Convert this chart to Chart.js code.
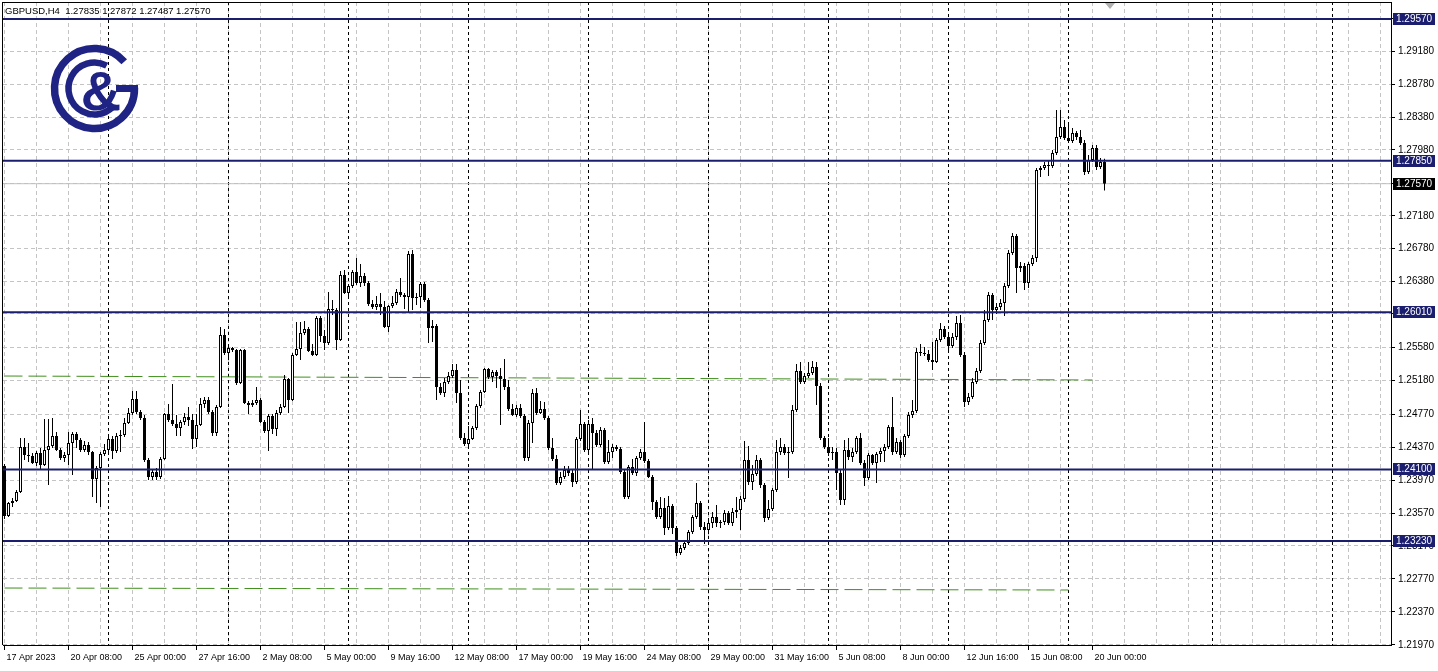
<!DOCTYPE html>
<html>
<head>
<meta charset="utf-8">
<title>GBPUSD H4</title>
<script src="https://cdn.jsdelivr.net/npm/chart.js@4.4.0/dist/chart.umd.min.js"></script>
<style>
  html, body { margin: 0; padding: 0; background: #fff; }
  #wrap { width: 1438px; height: 671px; }
</style>
</head>
<body>
<div id="wrap"><canvas id="chart" width="1438" height="671"></canvas></div>
<script>
// H4 bars, 17 Apr 2023 16:00 .. 20 Jun 2023 12:00 (bar index = position)
const opens = [
  1.24141, 1.23534, 1.23692, 1.23716, 1.23826, 1.24372, 1.24274, 1.24262, 1.24178, 1.24299,
  1.24153, 1.24335, 1.24384, 1.24506, 1.24335, 1.24238, 1.24274, 1.24421, 1.24530, 1.24457,
  1.24335, 1.24396, 1.24311, 1.23983, 1.24117, 1.24287, 1.24335, 1.24469, 1.24323, 1.24506,
  1.24518, 1.24664, 1.24785, 1.24955, 1.24797, 1.24724, 1.24214, 1.24007, 1.24068, 1.24007,
  1.24226, 1.24773, 1.24700, 1.24651, 1.24603, 1.24676, 1.24736, 1.24700, 1.24469, 1.24639,
  1.24894, 1.24943, 1.24797, 1.24542, 1.24858, 1.25732, 1.25513, 1.25574, 1.25550, 1.25149,
  1.25550, 1.24906, 1.24882, 1.24906, 1.24943, 1.24676, 1.24566, 1.24748, 1.24591, 1.24785,
  1.24858, 1.25198, 1.24943, 1.25489, 1.25562, 1.25757, 1.25805, 1.25538, 1.25489, 1.25939,
  1.25720, 1.25635, 1.26048, 1.26036, 1.25671, 1.26461, 1.26243, 1.26328, 1.26498, 1.26364,
  1.26449, 1.26364, 1.26109, 1.26072, 1.26109, 1.26072, 1.25829, 1.26084, 1.26121, 1.26255,
  1.26218, 1.26194, 1.26716, 1.26182, 1.26194, 1.26352, 1.26157, 1.25817, 1.25841, 1.25101,
  1.25028, 1.25162, 1.25234, 1.25307, 1.25028, 1.24481, 1.24408, 1.24469, 1.24603, 1.24870,
  1.25040, 1.25319, 1.25222, 1.25283, 1.25234, 1.25198, 1.25101, 1.24833, 1.24761, 1.24846,
  1.24748, 1.24238, 1.24664, 1.25028, 1.24785, 1.24833, 1.24724, 1.24360, 1.24226, 1.23935,
  1.24007, 1.24092, 1.24056, 1.23947, 1.24469, 1.24651, 1.24335, 1.24651, 1.24542, 1.24396,
  1.24578, 1.24190, 1.24311, 1.24372, 1.24347, 1.24068, 1.23765, 1.24129, 1.24056, 1.24238,
  1.24311, 1.24202, 1.24007, 1.23704, 1.23522, 1.23631, 1.23388, 1.23655, 1.23388, 1.23085,
  1.23145, 1.23206, 1.23339, 1.23522, 1.23692, 1.23400, 1.23364, 1.23449, 1.23522, 1.23449,
  1.23461, 1.23570, 1.23449, 1.23582, 1.23607, 1.23740, 1.24214, 1.23947, 1.24044, 1.24214,
  1.23910, 1.23510, 1.23619, 1.23850, 1.24311, 1.24372, 1.24299, 1.24311, 1.24821, 1.25295,
  1.25162, 1.25234, 1.25271, 1.25343, 1.25113, 1.24481, 1.24372, 1.24299, 1.24311, 1.24056,
  1.23728, 1.24335, 1.24250, 1.24311, 1.24481, 1.24178, 1.23995, 1.24274, 1.24178, 1.24287,
  1.24323, 1.24372, 1.24615, 1.24311, 1.24433, 1.24274, 1.24506, 1.24761, 1.24809, 1.25526,
  1.25513, 1.25501, 1.25428, 1.25404, 1.25671, 1.25805, 1.25708, 1.25599, 1.25708, 1.25878,
  1.25489, 1.24918, 1.24979, 1.25162, 1.25295, 1.25635, 1.25914, 1.26218, 1.26036, 1.26072,
  1.26121, 1.26328, 1.26728, 1.26935, 1.26546, 1.26570, 1.26364, 1.26594, 1.26667, 1.27736,
  1.27760, 1.27797, 1.27785, 1.27943, 1.28137, 1.28258, 1.28125, 1.28088, 1.28185, 1.28137,
  1.28064, 1.27712, 1.27858, 1.28003, 1.27773, 1.27835
];
const highs = [
  1.24165, 1.23704, 1.23752, 1.23850, 1.24481, 1.24481, 1.24421, 1.24299, 1.24323, 1.24360,
  1.24712, 1.24712, 1.24724, 1.24554, 1.24360, 1.24311, 1.24554, 1.24554, 1.24554, 1.24481,
  1.24445, 1.24433, 1.24323, 1.24141, 1.24311, 1.24408, 1.24493, 1.24506, 1.24542, 1.24578,
  1.24724, 1.24846, 1.25052, 1.25052, 1.24821, 1.24761, 1.24238, 1.24092, 1.24117, 1.24250,
  1.24785, 1.24894, 1.25137, 1.24761, 1.24700, 1.24785, 1.24858, 1.24773, 1.24773, 1.24967,
  1.24979, 1.24979, 1.24821, 1.24882, 1.25829, 1.25805, 1.25610, 1.25586, 1.25562, 1.25562,
  1.25562, 1.24931, 1.24943, 1.25101, 1.24967, 1.24700, 1.24773, 1.24773, 1.24821, 1.24894,
  1.25247, 1.25210, 1.25513, 1.25890, 1.25890, 1.25902, 1.25829, 1.25623, 1.25963, 1.25963,
  1.25793, 1.26255, 1.26157, 1.26060, 1.26510, 1.26522, 1.26352, 1.26522, 1.26667, 1.26594,
  1.26485, 1.26388, 1.26157, 1.26206, 1.26243, 1.26145, 1.26096, 1.26206, 1.26291, 1.26425,
  1.26243, 1.26752, 1.26764, 1.26243, 1.26376, 1.26376, 1.26182, 1.25914, 1.25866, 1.25149,
  1.25210, 1.25283, 1.25380, 1.25380, 1.25186, 1.24542, 1.24627, 1.24627, 1.24894, 1.25064,
  1.25331, 1.25331, 1.25307, 1.25307, 1.25331, 1.25441, 1.25186, 1.24894, 1.24882, 1.24894,
  1.24773, 1.24700, 1.25076, 1.25089, 1.24931, 1.24918, 1.24748, 1.24481, 1.24274, 1.24068,
  1.24141, 1.24141, 1.24092, 1.24493, 1.24821, 1.24676, 1.24700, 1.24724, 1.24578, 1.24615,
  1.24603, 1.24457, 1.24408, 1.24396, 1.24372, 1.24092, 1.24153, 1.24226, 1.24262, 1.24347,
  1.24676, 1.24226, 1.24031, 1.23728, 1.23765, 1.23752, 1.23777, 1.23680, 1.23412, 1.23182,
  1.23242, 1.23364, 1.23546, 1.23935, 1.23716, 1.23461, 1.23498, 1.23582, 1.23667, 1.23485,
  1.23607, 1.23594, 1.23631, 1.23765, 1.23777, 1.24445, 1.24384, 1.24153, 1.24274, 1.24238,
  1.23935, 1.23728, 1.23874, 1.24457, 1.24481, 1.24408, 1.24372, 1.24882, 1.25380, 1.25404,
  1.25271, 1.25404, 1.25416, 1.25404, 1.25149, 1.24506, 1.24481, 1.24372, 1.24360, 1.24092,
  1.24457, 1.24481, 1.24360, 1.24506, 1.24542, 1.24214, 1.24299, 1.24287, 1.24311, 1.24360,
  1.24408, 1.24639, 1.24979, 1.24481, 1.24457, 1.24530, 1.24797, 1.24943, 1.25574, 1.25623,
  1.25586, 1.25550, 1.25647, 1.25696, 1.25878, 1.25842, 1.25732, 1.25757, 1.25963, 1.25975,
  1.25526, 1.25028, 1.25210, 1.25331, 1.25671, 1.26036, 1.26255, 1.26243, 1.26121, 1.26170,
  1.26364, 1.26764, 1.26971, 1.26959, 1.26618, 1.26606, 1.26618, 1.26704, 1.27760, 1.27785,
  1.27833, 1.27858, 1.27979, 1.28465, 1.28465, 1.28343, 1.28319, 1.28246, 1.28210, 1.28222,
  1.28101, 1.27918, 1.28040, 1.28040, 1.27882, 1.27872
];
const lows = [
  1.23498, 1.23522, 1.23643, 1.23704, 1.23814, 1.24214, 1.24190, 1.24165, 1.24141, 1.24092,
  1.24141, 1.23910, 1.24360, 1.24323, 1.24214, 1.24190, 1.24153, 1.24031, 1.24360, 1.24311,
  1.24311, 1.24274, 1.23765, 1.23692, 1.23643, 1.24262, 1.24274, 1.24226, 1.24299, 1.24311,
  1.24493, 1.24651, 1.24761, 1.24773, 1.24700, 1.24190, 1.23971, 1.23971, 1.23971, 1.23983,
  1.24214, 1.24676, 1.24627, 1.24506, 1.24506, 1.24639, 1.24627, 1.24347, 1.24372, 1.24627,
  1.24846, 1.24773, 1.24506, 1.24506, 1.24846, 1.25489, 1.25428, 1.25526, 1.25125, 1.25137,
  1.24894, 1.24773, 1.24858, 1.24882, 1.24664, 1.24542, 1.24323, 1.24530, 1.24506, 1.24761,
  1.24846, 1.24785, 1.24931, 1.25477, 1.25428, 1.25732, 1.25526, 1.25477, 1.25477, 1.25647,
  1.25550, 1.25611, 1.25975, 1.25550, 1.25659, 1.26230, 1.26206, 1.26303, 1.26340, 1.26315,
  1.26328, 1.26084, 1.26048, 1.26036, 1.25975, 1.25817, 1.25768, 1.26060, 1.26096, 1.26194,
  1.26048, 1.25999, 1.26036, 1.26096, 1.26060, 1.26133, 1.25635, 1.25647, 1.24943, 1.25003,
  1.24979, 1.25137, 1.25210, 1.24906, 1.24457, 1.24384, 1.24384, 1.24457, 1.24578, 1.24846,
  1.25028, 1.25198, 1.25162, 1.25089, 1.24639, 1.25064, 1.24809, 1.24748, 1.24736, 1.24724,
  1.24202, 1.24202, 1.24421, 1.24761, 1.24773, 1.24700, 1.24335, 1.24202, 1.23910, 1.23910,
  1.23983, 1.24019, 1.23886, 1.23923, 1.24445, 1.24311, 1.24311, 1.24104, 1.24372, 1.24372,
  1.24165, 1.24165, 1.24238, 1.24323, 1.24044, 1.23740, 1.23740, 1.24031, 1.24019, 1.24214,
  1.24178, 1.23995, 1.23607, 1.23498, 1.23498, 1.23303, 1.23364, 1.23315, 1.23048, 1.23060,
  1.23121, 1.23182, 1.23315, 1.23498, 1.23364, 1.23194, 1.23315, 1.23388, 1.23400, 1.23388,
  1.23425, 1.23425, 1.23412, 1.23510, 1.23364, 1.23704, 1.23910, 1.23850, 1.24019, 1.23874,
  1.23461, 1.23485, 1.23594, 1.23826, 1.24274, 1.24274, 1.23995, 1.24287, 1.24797, 1.25137,
  1.25137, 1.25210, 1.25247, 1.24882, 1.24457, 1.24347, 1.24262, 1.24214, 1.23850, 1.23667,
  1.23667, 1.24214, 1.24190, 1.24287, 1.24153, 1.23898, 1.23971, 1.24153, 1.23935, 1.24190,
  1.24190, 1.24347, 1.24274, 1.24287, 1.24238, 1.24250, 1.24481, 1.24724, 1.24785, 1.25477,
  1.25477, 1.25404, 1.25307, 1.25392, 1.25647, 1.25684, 1.25526, 1.25574, 1.25671, 1.25465,
  1.24858, 1.24882, 1.24955, 1.25137, 1.25271, 1.25611, 1.25890, 1.25914, 1.25987, 1.26036,
  1.25963, 1.26303, 1.26704, 1.26243, 1.26497, 1.26279, 1.26303, 1.26570, 1.26618, 1.27651,
  1.27736, 1.27663, 1.27760, 1.27918, 1.28113, 1.28101, 1.28064, 1.28064, 1.28101, 1.28040,
  1.27676, 1.27688, 1.27834, 1.27736, 1.27748, 1.27487
];
const closes = [
  1.23534, 1.23692, 1.23716, 1.23826, 1.24372, 1.24274, 1.24262, 1.24178, 1.24299, 1.24153,
  1.24335, 1.24384, 1.24506, 1.24335, 1.24238, 1.24274, 1.24421, 1.24530, 1.24457, 1.24335,
  1.24396, 1.24311, 1.23983, 1.24117, 1.24287, 1.24335, 1.24469, 1.24323, 1.24506, 1.24518,
  1.24664, 1.24785, 1.24955, 1.24797, 1.24724, 1.24214, 1.24007, 1.24068, 1.24007, 1.24226,
  1.24773, 1.24700, 1.24651, 1.24603, 1.24676, 1.24736, 1.24700, 1.24469, 1.24639, 1.24894,
  1.24943, 1.24797, 1.24542, 1.24858, 1.25732, 1.25513, 1.25574, 1.25550, 1.25149, 1.25550,
  1.24906, 1.24882, 1.24906, 1.24943, 1.24676, 1.24566, 1.24748, 1.24591, 1.24785, 1.24858,
  1.25198, 1.24943, 1.25489, 1.25562, 1.25757, 1.25805, 1.25538, 1.25489, 1.25939, 1.25720,
  1.25635, 1.26048, 1.26036, 1.25671, 1.26461, 1.26243, 1.26328, 1.26498, 1.26364, 1.26449,
  1.26364, 1.26109, 1.26072, 1.26109, 1.26072, 1.25829, 1.26084, 1.26121, 1.26255, 1.26218,
  1.26194, 1.26716, 1.26182, 1.26194, 1.26352, 1.26157, 1.25817, 1.25841, 1.25101, 1.25028,
  1.25162, 1.25234, 1.25307, 1.25028, 1.24481, 1.24408, 1.24469, 1.24603, 1.24870, 1.25040,
  1.25319, 1.25222, 1.25283, 1.25234, 1.25198, 1.25101, 1.24833, 1.24761, 1.24846, 1.24748,
  1.24238, 1.24664, 1.25028, 1.24785, 1.24833, 1.24724, 1.24360, 1.24226, 1.23935, 1.24007,
  1.24092, 1.24056, 1.23947, 1.24469, 1.24651, 1.24335, 1.24651, 1.24542, 1.24396, 1.24578,
  1.24190, 1.24311, 1.24372, 1.24347, 1.24068, 1.23765, 1.24129, 1.24056, 1.24238, 1.24311,
  1.24202, 1.24007, 1.23704, 1.23522, 1.23631, 1.23388, 1.23655, 1.23388, 1.23085, 1.23145,
  1.23206, 1.23339, 1.23522, 1.23692, 1.23400, 1.23364, 1.23449, 1.23522, 1.23449, 1.23461,
  1.23570, 1.23449, 1.23582, 1.23607, 1.23740, 1.24214, 1.23947, 1.24044, 1.24214, 1.23910,
  1.23510, 1.23619, 1.23850, 1.24311, 1.24372, 1.24299, 1.24311, 1.24821, 1.25295, 1.25162,
  1.25234, 1.25271, 1.25343, 1.25113, 1.24481, 1.24372, 1.24299, 1.24311, 1.24056, 1.23728,
  1.24335, 1.24250, 1.24311, 1.24481, 1.24178, 1.23995, 1.24274, 1.24178, 1.24287, 1.24323,
  1.24372, 1.24615, 1.24311, 1.24433, 1.24274, 1.24506, 1.24761, 1.24809, 1.25526, 1.25513,
  1.25501, 1.25428, 1.25404, 1.25671, 1.25805, 1.25708, 1.25599, 1.25708, 1.25878, 1.25489,
  1.24918, 1.24979, 1.25162, 1.25295, 1.25635, 1.25914, 1.26218, 1.26036, 1.26072, 1.26121,
  1.26328, 1.26728, 1.26935, 1.26546, 1.26570, 1.26364, 1.26594, 1.26667, 1.27736, 1.27760,
  1.27797, 1.27785, 1.27943, 1.28137, 1.28258, 1.28125, 1.28088, 1.28185, 1.28137, 1.28064,
  1.27712, 1.27858, 1.28003, 1.27773, 1.27834, 1.27570
];

const timeLabels = [
  '17 Apr 2023', '20 Apr 08:00', '25 Apr 00:00', '27 Apr 16:00', '2 May 08:00', '5 May 00:00',
  '9 May 16:00', '12 May 08:00', '17 May 00:00', '19 May 16:00', '24 May 08:00', '29 May 00:00',
  '31 May 16:00', '5 Jun 08:00', '8 Jun 00:00', '12 Jun 16:00', '15 Jun 08:00', '20 Jun 00:00'
];
const priceTicks = [
  1.2958, 1.2918, 1.2878, 1.2838, 1.2798, 1.2757, 1.2718, 1.2678, 1.2638, 1.2599,
  1.2558, 1.2518, 1.2477, 1.2437, 1.2397, 1.2357, 1.2317, 1.2277, 1.2237, 1.2197
];
const levels = [1.29570, 1.27850, 1.26010, 1.24100, 1.23230];
const bidPrice = 1.27570;
const weekStarts = [26, 56, 86, 116, 146, 176, 206, 236, 266, 302, 332];
const upperDash = [1.25234, 1.25186];   // bar 0 -> bar 272
const lowerDash = [1.22659, 1.22635];   // bar 0 -> bar 266
const header = 'GBPUSD,H4  1.27835 1.27872 1.27487 1.27570';

const navy = '#1b1e6e';
const gridColor = '#c4c4c4';
const barsPerLabel = 16;
const barsPerGrid = 8;
const xMin = -0.375, xMax = 346.625;
const yMin = 1.21967, yMax = 1.29777;

const bodies = closes.map((c, i) => ({ x: i, y: [opens[i], c] }));
const wicks = highs.map((h, i) => ({ x: i, y: [lows[i], h] }));
const gridBars = [];
for (let b = 0; b <= xMax; b += barsPerGrid) gridBars.push(b);

function hline(v, color, width, dash, order) {
  return {
    type: 'line', data: [{ x: xMin, y: v }, { x: xMax, y: v }],
    borderColor: color, borderWidth: width, borderDash: dash || [],
    pointRadius: 0, order: order
  };
}

const extras = {
  id: 'extras',
  beforeDatasetsDraw(chart) {
    const { ctx, chartArea: a, scales: { x } } = chart;
    ctx.save();
    ctx.strokeStyle = '#000';
    ctx.lineWidth = 1;
    ctx.setLineDash([3, 3]);
    weekStarts.forEach(b => {
      const px = x.getPixelForValue(b);
      ctx.beginPath();
      ctx.moveTo(px, a.top);
      ctx.lineTo(px, a.bottom);
      ctx.stroke();
    });
    ctx.restore();
  },
  afterDatasetsDraw(chart) {
    const { ctx } = chart;
    // logo
    const cx = 94.5, cy = 88.5;
    ctx.save();
    ctx.strokeStyle = '#1f2384';
    ctx.fillStyle = '#1f2384';
    ctx.lineWidth = 7.5;
    ctx.beginPath();
    ctx.arc(cx, cy, 40, -42 * Math.PI / 180, -1 * Math.PI / 180, true);
    ctx.stroke();
    ctx.fillRect(116, 85, 22, 7);
    ctx.lineWidth = 6.5;
    ctx.beginPath();
    ctx.arc(cx, cy, 26, -62 * Math.PI / 180, 46 * Math.PI / 180, true);
    ctx.stroke();
    ctx.font = 'bold 56px "Liberation Sans"';
    ctx.textAlign = 'center';
    ctx.textBaseline = 'alphabetic';
    ctx.fillText('&', 101, 110);
    ctx.restore();
  },
  afterDraw(chart) {
    const { ctx, chartArea: a, scales: { y } } = chart;
    ctx.save();
    // frame left / top
    ctx.fillStyle = '#000';
    ctx.fillRect(2, 2, 1, a.bottom - 2);
    ctx.fillRect(2, 2, a.right - 2, 1);
    // header
    ctx.font = '9.5px "Liberation Sans"';
    ctx.textBaseline = 'middle';
    ctx.textAlign = 'left';
    ctx.fillText(header, 5, 11);
    // shift marker
    ctx.fillStyle = '#b0b0b0';
    ctx.beginPath();
    ctx.moveTo(1105, 3); ctx.lineTo(1115, 3); ctx.lineTo(1110, 9);
    ctx.closePath(); ctx.fill();
    // price labels on the axis
    ctx.font = '10px "Liberation Sans"';
    const tag = (v, bg) => {
      const py = Math.round(y.getPixelForValue(v));
      ctx.fillStyle = bg;
      ctx.fillRect(a.right + 2, py - 6, 42, 12);
      ctx.fillStyle = '#fff';
      ctx.fillText(v.toFixed(5), a.right + 5, py + 0.5);
    };
    levels.forEach(v => tag(v, navy));
    tag(bidPrice, '#000');
    ctx.restore();
  }
};

const chart = new Chart(document.getElementById('chart').getContext('2d'), {
  type: 'bar',
  data: {
    datasets: [
      {
        label: 'body', data: bodies, order: 0, grouped: false,
        barThickness: 3, borderWidth: 1, borderColor: '#000', borderSkipped: false,
        minBarLength: 1, inflateAmount: 0,
        backgroundColor: bodies.map(d => d.y[1] >= d.y[0] ? '#fff' : '#000')
      },
      {
        label: 'wick', data: wicks, order: 1, grouped: false,
        barThickness: 1, borderWidth: 0, inflateAmount: 0, backgroundColor: '#000'
      },
      ...levels.map(v => hline(v, navy, 2, [], -1)),
      hline(bidPrice, '#c0c0c0', 1, [], 3),
      {
        type: 'line', data: [{ x: 0, y: upperDash[0] }, { x: 272, y: upperDash[1] }],
        borderColor: '#3f8f1c', borderWidth: 1, borderDash: [18, 6], pointRadius: 0, order: 3
      },
      {
        type: 'line', data: [{ x: 0, y: lowerDash[0] }, { x: 266, y: lowerDash[1] }],
        borderColor: '#3f8f1c', borderWidth: 1, borderDash: [18, 6], pointRadius: 0, order: 3
      }
    ]
  },
  options: {
    responsive: false,
    animation: false,
    events: [],
    layout: { padding: { left: 3, top: 2, right: 0, bottom: 0 } },
    plugins: { legend: { display: false }, tooltip: { enabled: false } },
    scales: {
      x: {
        type: 'linear', min: xMin, max: xMax, offset: false,
        afterBuildTicks: s => { s.ticks = gridBars.map(v => ({ value: v })); },
        afterFit: s => { s.height = 26; s.paddingLeft = 0; s.paddingRight = 0; },
        ticks: {
          autoSkip: false, maxRotation: 0, align: 'start', labelOffset: 2, padding: 2,
          color: '#000', font: { family: 'Liberation Sans', size: 9 },
          callback: v => (v % barsPerLabel === 0 && v / barsPerLabel < timeLabels.length) ? timeLabels[v / barsPerLabel] : ''
        },
        grid: {
          offset: false, color: gridColor, tickLength: 5,
          tickColor: c => (c.tick && c.tick.value % barsPerLabel === 0 && c.tick.value / barsPerLabel < timeLabels.length) ? '#000' : 'rgba(0,0,0,0)'
        },
        border: { display: true, color: '#000', dash: [4, 3] }
      },
      y: {
        type: 'linear', position: 'right', min: yMin, max: yMax, beginAtZero: false,
        afterBuildTicks: s => { s.ticks = priceTicks.map(v => ({ value: v })); },
        afterFit: s => { s.width = 47; s.paddingTop = 0; s.paddingBottom = 0; },
        ticks: {
          color: '#000', padding: 3, font: { family: 'Liberation Sans', size: 10 },
          callback: v => v.toFixed(5)
        },
        grid: { color: gridColor, tickLength: 4, tickColor: '#000' },
        border: { display: true, color: '#000', dash: [4, 3] }
      }
    }
  },
  plugins: [extras]
});
</script>
</body>
</html>
